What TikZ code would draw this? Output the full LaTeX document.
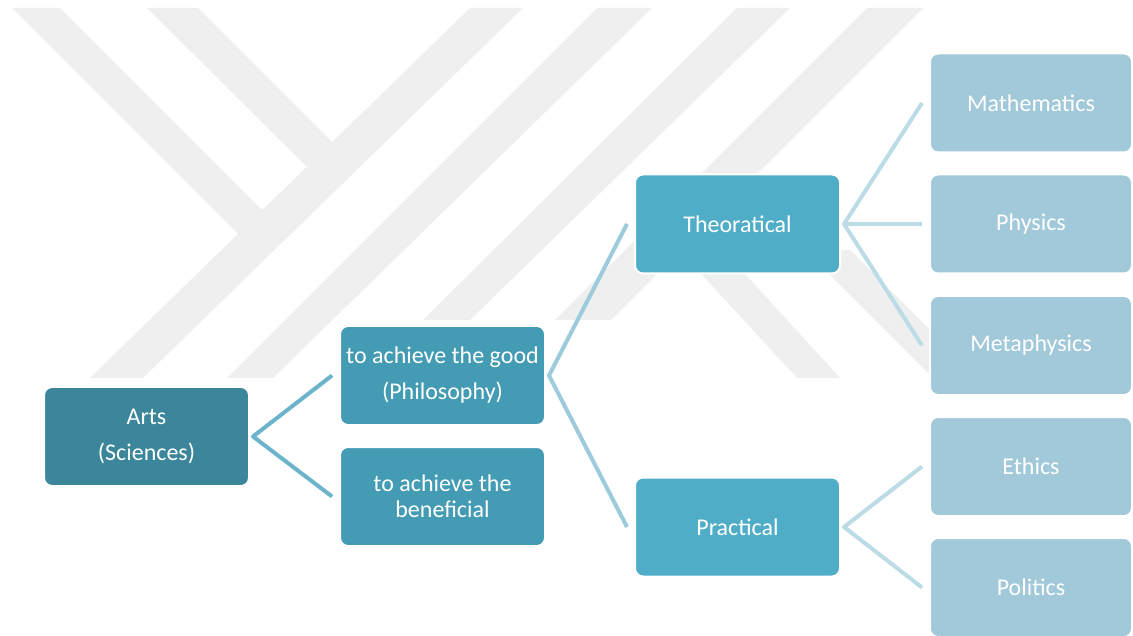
\documentclass[tikz,border=0pt]{standalone}
\usepackage{fontspec}
\setmainfont{Carlito}
\definecolor{wm}{HTML}{EFEFEF}
\definecolor{fillA}{HTML}{3B869A}
\definecolor{fillB}{HTML}{449BB4}
\definecolor{fillC}{HTML}{50ADC8}
\definecolor{fillD}{HTML}{A1C9D9}
\definecolor{lineA}{HTML}{6CB4CB}
\definecolor{lineB}{HTML}{9CCBDC}
\definecolor{lineC}{HTML}{BBDCE6}
\begin{document}
\begin{tikzpicture}[x=1pt,y=-1pt,
  box/.style={rectangle, rounded corners=8pt, draw=white, line width=2pt,
    minimum width=205pt, minimum height=99pt, inner sep=2pt, align=center,
    text=white, font=\fontsize{24}{26}\selectfont},
  boxA/.style={box, fill=fillA},
  boxB/.style={box, fill=fillB},
  boxC/.style={box, fill=fillC},
  boxD/.style={box, fill=fillD, minimum width=202pt},
  conn/.style={line width=4pt, line join=round},
  connA/.style={conn, draw=lineA},
  connB/.style={conn, draw=lineB},
  connC/.style={conn, draw=lineC}]
\useasboundingbox (0,0) rectangle (1133,636);
\clip (0,0) rectangle (1133,636);
\fill[white] (0,0) rectangle (1133,636);
% watermark
\fill[wm] (12,8) -- (60,8) -- (286,234) -- (262,258) -- cycle;
\fill[wm] (147,8) -- (198,8) -- (355,165) -- (330,190) -- cycle;
\fill[wm] (470,8) -- (523,8) -- (143,378) -- (90,378) -- cycle;
\fill[wm] (597,8) -- (652,8) -- (273,378) -- (227,378) -- cycle;
\fill[wm] (737,8) -- (790,8) -- (470,320) -- (423,320) -- cycle;
\fill[wm] (867,8) -- (923,8) -- (611,320) -- (555,320) -- cycle;
\fill[wm] (670,240) -- (714,240) -- (840,378) -- (797,378) -- cycle;
\fill[wm] (805,250) -- (850,250) -- (980,380) -- (935,380) -- cycle;
% boxes
\node[boxA] (arts) at (146.5,436.5) {Arts\\[10pt](Sciences)};
\node[boxB] (good) at (442.5,375.5) {to achieve the good\\[10pt](Philosophy)};
\node[boxB] (benef) at (442.5,496.5) {to achieve the\\beneficial};
\node[boxC] (theo) at (737.5,224) {Theoratical};
\node[boxC] (prac) at (737.5,527) {Practical};
\node[boxD] (math) at (1031,103) {Mathematics};
\node[boxD] (phys) at (1031,224) {Physics};
\node[boxD] (meta) at (1031,345.5) {Metaphysics};
\node[boxD] (eth) at (1031,466.5) {Ethics};
\node[boxD] (pol) at (1031,587.5) {Politics};
% fork points
\coordinate (fa) at ([xshift=3pt]arts.east);
\coordinate (fg) at ([xshift=3pt]good.east);
\coordinate (ft) at ([xshift=3pt]theo.east);
\coordinate (fp) at ([xshift=3pt]prac.east);
% connectors
\draw[connA] ([xshift=-7pt]good.west) -- (fa) -- ([xshift=-7pt]benef.west);
\draw[connB] ([xshift=-7pt]theo.west) -- (fg) -- ([xshift=-7pt]prac.west);
\draw[connC] ([xshift=-7pt]math.west) -- (ft) -- ([xshift=-7pt]meta.west);
\draw[connC] (ft) -- ([xshift=-7pt]phys.west);
\draw[connC] ([xshift=-7pt]eth.west) -- (fp) -- ([xshift=-7pt]pol.west);
\end{tikzpicture}
\end{document}
